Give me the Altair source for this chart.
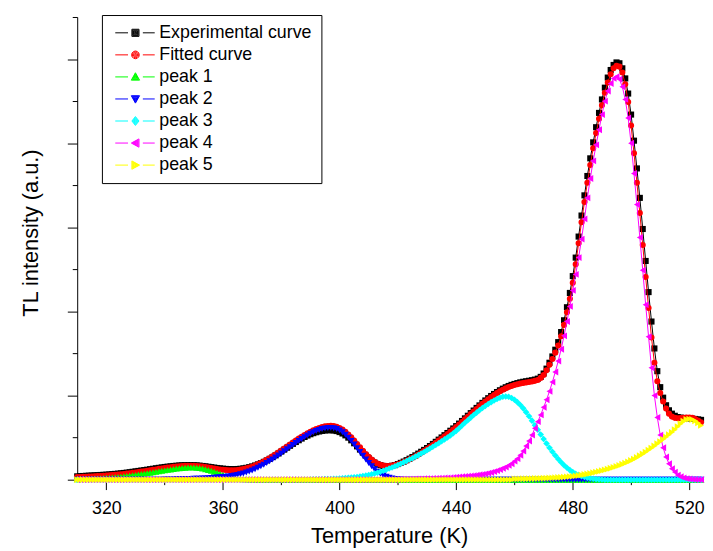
import math
import altair as alt
import pandas as pd

T_START = 310
T_END = 524
temperature = list(range(T_START, T_END + 1))

experimental = [
    0.040, 0.042, 0.044, 0.046, 0.048, 0.050, 0.052, 0.054, 0.056, 0.058,
    0.060, 0.063, 0.066, 0.069, 0.072, 0.076, 0.080, 0.084, 0.089, 0.094,
    0.099, 0.104, 0.109, 0.114, 0.119, 0.125, 0.130, 0.136, 0.141, 0.146,
    0.151, 0.155, 0.159, 0.163, 0.166, 0.169, 0.171, 0.172, 0.173, 0.173,
    0.172, 0.170, 0.167, 0.163, 0.159, 0.154, 0.149, 0.144, 0.139, 0.135,
    0.131, 0.128, 0.126, 0.125, 0.125, 0.127, 0.130, 0.135, 0.141, 0.149,
    0.158, 0.169, 0.182, 0.196, 0.212, 0.229, 0.248, 0.268, 0.289, 0.311,
    0.334, 0.357, 0.380, 0.403, 0.426, 0.448, 0.469, 0.489, 0.508, 0.525,
    0.540, 0.553, 0.564, 0.573, 0.580, 0.585, 0.588, 0.588, 0.585, 0.578,
    0.566, 0.549, 0.527, 0.500, 0.468, 0.433, 0.396, 0.358, 0.321, 0.286,
    0.254, 0.226, 0.203, 0.185, 0.172, 0.164, 0.161, 0.162, 0.166, 0.173,
    0.186, 0.200, 0.215, 0.232, 0.250, 0.269, 0.289, 0.310, 0.332, 0.354,
    0.376, 0.400, 0.425, 0.450, 0.476, 0.502, 0.529, 0.555, 0.582, 0.609,
    0.637, 0.667, 0.698, 0.729, 0.760, 0.791, 0.822, 0.853, 0.883, 0.913,
    0.942, 0.969, 0.995, 1.019, 1.042, 1.063, 1.082, 1.099, 1.114, 1.127,
    1.138, 1.148, 1.157, 1.164, 1.170, 1.176, 1.182, 1.190, 1.201, 1.222,
    1.262, 1.320, 1.390, 1.465, 1.545, 1.635, 1.755, 1.895, 2.050, 2.220,
    2.420, 2.640, 2.890, 3.140, 3.380, 3.610, 3.820, 4.010, 4.190, 4.360,
    4.520, 4.660, 4.780, 4.870, 4.930, 4.960, 4.950, 4.890, 4.770, 4.590,
    4.340, 4.030, 3.700, 3.350, 2.980, 2.600, 2.230, 1.880, 1.560, 1.290,
    1.100, 0.975, 0.885, 0.825, 0.785, 0.760, 0.745, 0.738, 0.734, 0.731,
    0.729, 0.726, 0.722, 0.717, 0.711,
]

fitted = [
    0.030, 0.031, 0.033, 0.034, 0.036, 0.038, 0.040, 0.042, 0.044, 0.046,
    0.048, 0.051, 0.054, 0.057, 0.060, 0.064, 0.068, 0.072, 0.076, 0.081,
    0.086, 0.091, 0.096, 0.101, 0.106, 0.111, 0.117, 0.122, 0.128, 0.133,
    0.138, 0.143, 0.148, 0.152, 0.156, 0.159, 0.162, 0.164, 0.165, 0.165,
    0.164, 0.162, 0.159, 0.155, 0.150, 0.145, 0.139, 0.133, 0.127, 0.122,
    0.118, 0.115, 0.113, 0.112, 0.113, 0.116, 0.120, 0.126, 0.134, 0.143,
    0.154, 0.167, 0.182, 0.198, 0.216, 0.235, 0.255, 0.277, 0.299, 0.322,
    0.346, 0.370, 0.394, 0.418, 0.442, 0.466, 0.489, 0.511, 0.532, 0.552,
    0.570, 0.587, 0.602, 0.615, 0.626, 0.634, 0.639, 0.640, 0.637, 0.629,
    0.615, 0.595, 0.569, 0.538, 0.503, 0.465, 0.425, 0.384, 0.344, 0.306,
    0.271, 0.240, 0.214, 0.193, 0.178, 0.168, 0.163, 0.163, 0.167, 0.174,
    0.184, 0.196, 0.210, 0.225, 0.242, 0.260, 0.279, 0.299, 0.320, 0.342,
    0.364, 0.388, 0.413, 0.438, 0.464, 0.490, 0.517, 0.543, 0.570, 0.597,
    0.625, 0.655, 0.686, 0.717, 0.748, 0.779, 0.810, 0.841, 0.871, 0.901,
    0.930, 0.957, 0.983, 1.007, 1.030, 1.050, 1.069, 1.086, 1.101, 1.114,
    1.125, 1.135, 1.143, 1.150, 1.156, 1.162, 1.168, 1.175, 1.185, 1.210,
    1.245, 1.300, 1.365, 1.435, 1.510, 1.595, 1.705, 1.840, 1.990, 2.150,
    2.340, 2.560, 2.810, 3.060, 3.300, 3.530, 3.740, 3.940, 4.120, 4.290,
    4.450, 4.600, 4.720, 4.820, 4.890, 4.920, 4.910, 4.840, 4.700, 4.490,
    4.210, 3.880, 3.530, 3.170, 2.790, 2.410, 2.040, 1.690, 1.390, 1.170,
    1.030, 0.930, 0.845, 0.785, 0.750, 0.735, 0.730, 0.732, 0.736, 0.740,
    0.740, 0.735, 0.722, 0.704, 0.682,
]

peak1_start = 310
peak1 = [
    0.006, 0.007, 0.008, 0.009, 0.011, 0.012, 0.014, 0.016, 0.018, 0.020,
    0.022, 0.024, 0.027, 0.030, 0.033, 0.036, 0.040, 0.044, 0.048, 0.052,
    0.057, 0.062, 0.067, 0.072, 0.078, 0.083, 0.089, 0.094, 0.100, 0.106,
    0.111, 0.117, 0.122, 0.127, 0.132, 0.136, 0.140, 0.143, 0.145, 0.146,
    0.145, 0.142, 0.138, 0.132, 0.125, 0.116, 0.106, 0.094, 0.082, 0.070,
    0.058, 0.047, 0.037, 0.028, 0.020, 0.014, 0.009, 0.006, 0.004, 0.002,
    0.001, 0.0005, 0.0,
]

peak2_start = 340
peak2 = [
    0.003, 0.003, 0.004, 0.004, 0.005, 0.006, 0.007, 0.008, 0.009, 0.010,
    0.011, 0.012, 0.013, 0.015, 0.016, 0.018, 0.020, 0.022, 0.025, 0.028,
    0.031, 0.035, 0.039, 0.044, 0.050, 0.057, 0.065, 0.074, 0.085, 0.097,
    0.110, 0.125, 0.141, 0.159, 0.178, 0.198, 0.219, 0.241, 0.264, 0.288,
    0.312, 0.337, 0.362, 0.387, 0.412, 0.437, 0.461, 0.484, 0.506, 0.527,
    0.546, 0.563, 0.578, 0.591, 0.602, 0.610, 0.615, 0.616, 0.612, 0.602,
    0.586, 0.563, 0.534, 0.500, 0.461, 0.419, 0.375, 0.330, 0.285, 0.241,
    0.199, 0.160, 0.125, 0.095, 0.070, 0.050, 0.035, 0.023, 0.015, 0.009,
    0.005, 0.003, 0.001,
]

peak3_start = 390
peak3 = [
    0.003, 0.004, 0.004, 0.005, 0.006, 0.007, 0.008, 0.009, 0.011, 0.012,
    0.014, 0.016, 0.019, 0.022, 0.025, 0.029, 0.033, 0.038, 0.043, 0.049,
    0.056, 0.064, 0.073, 0.083, 0.094, 0.106, 0.119, 0.132, 0.146, 0.160,
    0.175, 0.190, 0.206, 0.222, 0.239, 0.256, 0.274, 0.292, 0.311, 0.330,
    0.350, 0.370, 0.391, 0.412, 0.434, 0.456, 0.479, 0.502, 0.526, 0.553,
    0.580, 0.612, 0.644, 0.676, 0.707, 0.738, 0.768, 0.797, 0.825, 0.852,
    0.877, 0.900, 0.922, 0.942, 0.960, 0.975, 0.986, 0.990, 0.986, 0.972,
    0.950, 0.922, 0.888, 0.848, 0.803, 0.754, 0.702, 0.648, 0.593, 0.538,
    0.484, 0.431, 0.380, 0.332, 0.287, 0.245, 0.207, 0.172, 0.141, 0.114,
    0.091, 0.071, 0.055, 0.042, 0.031, 0.023, 0.016, 0.011, 0.007, 0.004,
    0.002,
]

peak4_start = 420
peak4 = [
    0.004, 0.005, 0.005, 0.006, 0.006, 0.007, 0.008, 0.009, 0.010, 0.011,
    0.012, 0.013, 0.014, 0.015, 0.017, 0.018, 0.020, 0.022, 0.024, 0.027,
    0.030, 0.032, 0.035, 0.038, 0.041, 0.045, 0.049, 0.054, 0.059, 0.064,
    0.070, 0.078, 0.086, 0.096, 0.107, 0.120, 0.135, 0.150, 0.170, 0.190,
    0.220, 0.250, 0.290, 0.340, 0.400, 0.460, 0.530, 0.610, 0.690, 0.770,
    0.860, 0.950, 1.050, 1.160, 1.280, 1.410, 1.550, 1.710, 1.880, 2.060,
    2.250, 2.440, 2.640, 2.860, 3.100, 3.350, 3.580, 3.790, 3.980, 4.160,
    4.340, 4.500, 4.620, 4.710, 4.770, 4.790, 4.760, 4.670, 4.520, 4.300,
    4.000, 3.640, 3.270, 2.880, 2.490, 2.080, 1.700, 1.330, 1.000, 0.740,
    0.530, 0.380, 0.270, 0.190, 0.130, 0.090, 0.055, 0.035, 0.022, 0.013,
    0.008, 0.004, 0.002, 0.001, 0.000,
]

peak5_start = 460
peak5 = [
    0.009, 0.0095, 0.010, 0.011, 0.0115, 0.012, 0.013, 0.014, 0.015, 0.016,
    0.017, 0.0185, 0.020, 0.022, 0.024, 0.026, 0.028, 0.031, 0.034, 0.037,
    0.040, 0.045, 0.050, 0.056, 0.062, 0.068, 0.075, 0.082, 0.090, 0.098,
    0.107, 0.116, 0.126, 0.136, 0.147, 0.158, 0.170, 0.183, 0.197, 0.212,
    0.228, 0.245, 0.264, 0.284, 0.306, 0.328, 0.352, 0.376, 0.401, 0.427,
    0.453, 0.480, 0.507, 0.535, 0.563, 0.595, 0.630, 0.665, 0.695, 0.715,
    0.720, 0.715, 0.700, 0.675, 0.645,
]

series_names = ["Experimental curve", "Fitted curve", "peak 1", "peak 2",
                "peak 3", "peak 4", "peak 5"]
series_colors = ["#000000", "#ff0000", "#00ff00", "#0000ff",
                 "#00ffff", "#ff00ff", "#ffff00"]
marker_shapes = ["square", "circle", "triangle-up", "triangle-down",
                 "diamond", "triangle-left", "triangle-right"]
marker_sizes = [38, 38, 48, 48, 44, 48, 48]
x_tick_values = list(range(320, 521, 20))
y_tick_values = [i * 0.5 for i in range(12)]


# ---- legend symbol paths: line - marker - line (marker drawn as nested outlines)
def _polygon_path(cx, verts, k):
    pts = [(cx + x * k, y * k) for x, y in verts]
    s = "M%.3f,%.3f" % pts[0]
    for p in pts[1:]:
        s += "L%.3f,%.3f" % p
    return s + "Z"


_circle = [(1.3 * math.cos(2 * math.pi * i / 12), 1.3 * math.sin(2 * math.pi * i / 12))
           for i in range(12)]
_marker_verts = [
    [(-1.2, -1.2), (1.2, -1.2), (1.2, 1.2), (-1.2, 1.2)],
    _circle,
    [(0, -1.4), (1.4, 1.1), (-1.4, 1.1)],
    [(0, 1.4), (1.4, -1.1), (-1.4, -1.1)],
    [(0, -1.5), (1.2, 0), (0, 1.5), (-1.2, 0)],
    [(-1.4, 0), (1.2, -1.4), (1.2, 1.4)],
    [(1.4, 0), (-1.2, -1.4), (-1.2, 1.4)],
]
_cx = 5.3
legend_paths = []
for verts in _marker_verts:
    p = "M-1.5,0H2.8M7.8,0H11.8"
    for k in (1.0, 0.78, 0.56, 0.34, 0.12):
        p += _polygon_path(_cx, verts, k)
    legend_paths.append(p)


def full_range(start, values):
    out = []
    for t in temperature:
        i = t - start
        out.append(values[i] if 0 <= i < len(values) else 0.0)
    return out


series_values = [
    full_range(T_START, experimental),
    full_range(T_START, fitted),
    full_range(peak1_start, peak1),
    full_range(peak2_start, peak2),
    full_range(peak3_start, peak3),
    full_range(peak4_start, peak4),
    full_range(peak5_start, peak5),
]

rows = []
for name, vals in zip(series_names, series_values):
    for t, v in zip(temperature, vals):
        rows.append({"T": t, "value": v, "series": name})
df = pd.DataFrame(rows)

FONT = "Liberation Sans"

x_enc = alt.X(
    "T:Q",
    scale=alt.Scale(domain=[310, 524], nice=False, zero=False),
    axis=alt.Axis(
        values=x_tick_values,
        format="d",
        labelExpr="datum.value % 40 == 0 ? datum.label : ''",
        tickSize={"condition": {"test": "datum.value % 40 == 0", "value": 10}, "value": 5},
        title="Temperature (K)",
        labelPadding=10,
        titlePadding=9,
    ),
)
y_enc = alt.Y(
    "value:Q",
    scale=alt.Scale(domain=[0, 5.5], nice=False, zero=False),
    axis=alt.Axis(
        values=y_tick_values,
        labels=False,
        tickSize={"condition": {"test": "datum.value % 1 == 0", "value": 10}, "value": 5},
        title="TL intensity (a.u.)",
        titlePadding=25,
        titleY=218,
    ),
)

layers = []
for name, color, shape, size in zip(series_names, series_colors, marker_shapes, marker_sizes):
    base = alt.Chart(df).transform_filter(alt.datum.series == name)
    layers.append(base.mark_line(strokeWidth=1, color=color).encode(x=x_enc, y=y_enc))
    layers.append(base.mark_point(
        filled=True, shape=shape, size=size, color=color, opacity=1, strokeWidth=0
    ).encode(x=x_enc, y=y_enc))

legend_props = dict(
    title=None,
    orient="none",
    legendX=25,
    legendY=-2,
    padding=9,
    strokeColor="black",
    fillColor="white",
    symbolSize=36,
    symbolStrokeWidth=1,
    symbolOpacity=1,
    labelFont=FONT,
    labelFontSize=18,
    labelColor="black",
    labelOffset=31,
    rowPadding=4.3,
)

# invisible marks (one per series) that only carry the legend
legend_layer = alt.Chart(df).transform_filter(
    alt.datum.T == T_START
).mark_point(filled=False, opacity=0, strokeWidth=1).encode(
    x=x_enc,
    y=y_enc,
    color=alt.Color("series:N", scale=alt.Scale(domain=series_names, range=series_colors),
                    legend=alt.Legend(**legend_props)),
    shape=alt.Shape("series:N", scale=alt.Scale(domain=series_names, range=legend_paths),
                    legend=alt.Legend(**legend_props)),
)
layers.append(legend_layer)

chart = alt.layer(*layers).properties(
    width=631,
    height=468,
    autosize=alt.AutoSizeParams(type="none"),
    padding={"left": 70, "top": 6, "right": 4, "bottom": 67},
).configure_view(
    stroke=None
).configure_axis(
    grid=False,
    domainColor="black",
    domainWidth=1,
    tickColor="black",
    tickWidth=1,
    labelFont=FONT,
    labelFontSize=18,
    labelColor="black",
    labelFlush=False,
    labelOverlap=False,
    titleFont=FONT,
    titleFontSize=22,
    titleFontWeight="normal",
    titleColor="black",
)

chart.save("out.html", embed_options={"renderer": "svg", "actions": False})
